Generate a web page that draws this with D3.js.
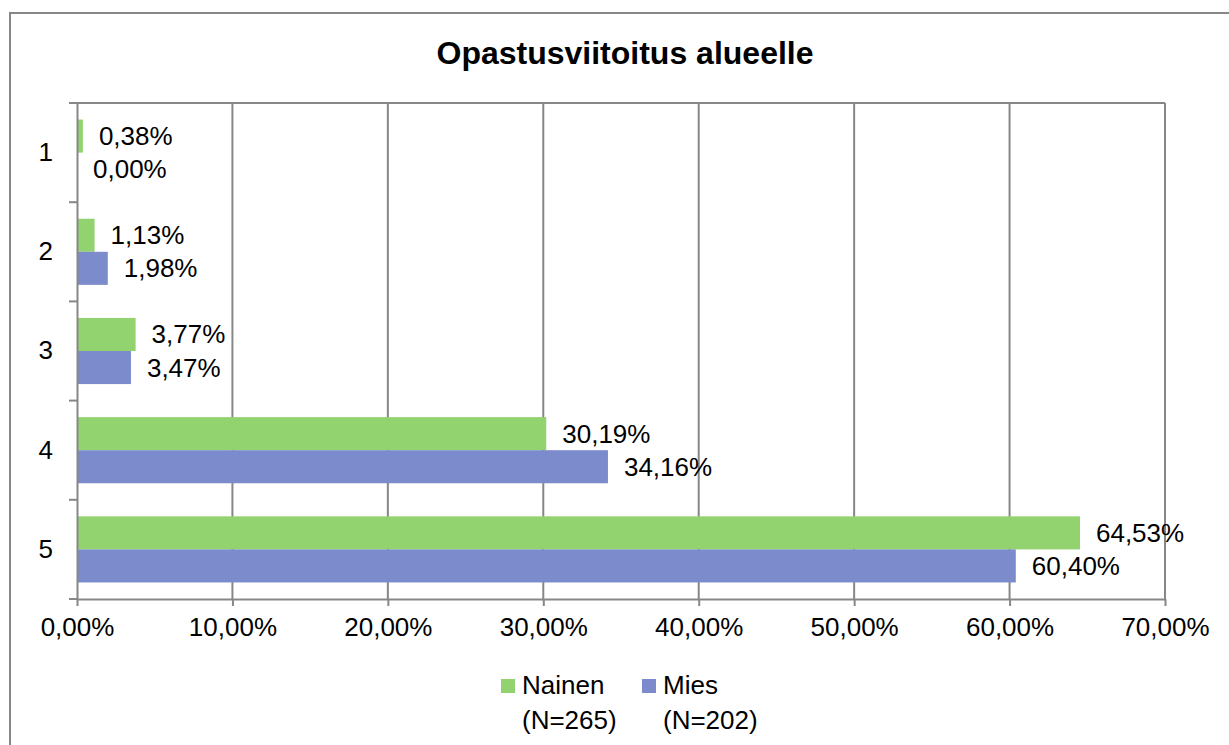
<!DOCTYPE html>
<meta charset="utf-8">
<head>
<style>
  body { margin: 0; background: #fff; }
  text { font-family: "Liberation Sans", Arial, sans-serif; fill: #000; }
  .grid line { stroke: #878787; stroke-width: 2; }
  .axis path, .axis line { stroke: #878787; stroke-width: 2; }
</style>
</head>
<script src="https://d3js.org/d3.v7.min.js"></script>
<div id="chart"></div>
<script>
// data
var categories = ["1", "2", "3", "4", "5"];
var seriesNames = ["Nainen", "Mies"];
var seriesLegend = ["(N=265)", "(N=202)"];
var nainen = [0.38, 1.13, 3.77, 30.19, 64.53];
var mies = [0.00, 1.98, 3.47, 34.16, 60.40];
var xTicks = [0, 10, 20, 30, 40, 50, 60, 70];
var colors = ["#92d36f", "#7b8bcc"];

var W = 1229, H = 745;
var plot = {left: 77, right: 1165, top: 103, bottom: 599};

var svg = d3.select("#chart").append("svg")
    .attr("width", W).attr("height", H);

// outer chart border (right and bottom are off the picture)
svg.append("rect")
    .attr("x", 10).attr("y", 13)
    .attr("width", 1240).attr("height", 760)
    .attr("fill", "none").attr("stroke", "#878787").attr("stroke-width", 2);

svg.append("text")
    .attr("x", 625).attr("y", 64)
    .attr("text-anchor", "middle")
    .style("font-size", "32px").style("font-weight", "bold")
    .text("Opastusviitoitus alueelle");

var x = d3.scaleLinear().domain([0, 70]).range([plot.left, plot.right]);
var y = d3.scaleBand().domain(categories).range([plot.top, plot.bottom]);
var ySub = d3.scaleBand().domain(seriesNames)
    .range([0, y.bandwidth()]).paddingOuter(0.5);

var fmt = function(v) { return d3.format(".2f")(v).replace(".", ",") + "%"; };

// vertical gridlines
svg.append("g").attr("class", "grid")
  .selectAll("line").data(xTicks.slice(1)).enter().append("line")
    .attr("x1", function(d) { return x(d); }).attr("x2", function(d) { return x(d); })
    .attr("y1", plot.top).attr("y2", plot.bottom);
// top border of plot area
svg.append("line")
    .attr("x1", plot.left).attr("x2", plot.right)
    .attr("y1", plot.top).attr("y2", plot.top)
    .attr("stroke", "#878787").attr("stroke-width", 2);

// bars
var rows = categories.map(function(c, i) {
  return [{cat: c, s: "Nainen", v: nainen[i], c: colors[0]},
          {cat: c, s: "Mies", v: mies[i], c: colors[1]}];
});
var flat = [].concat.apply([], rows);

svg.append("g").selectAll("rect").data(flat).enter().append("rect")
    .attr("x", x(0))
    .attr("y", function(d) { return y(d.cat) + ySub(d.s); })
    .attr("width", function(d) { return x(d.v) - x(0); })
    .attr("height", ySub.bandwidth())
    .attr("fill", function(d) { return d.c; });

svg.append("g").selectAll("text").data(flat).enter().append("text")
    .attr("x", function(d) { return x(d.v) + 16; })
    .attr("y", function(d) { return y(d.cat) + ySub(d.s) + ySub.bandwidth() / 2 + 9; })
    .style("font-size", "26px")
    .text(function(d) { return fmt(d.v); });

// x axis
var xAxis = svg.append("g").attr("class", "axis")
    .attr("transform", "translate(0," + plot.bottom + ")")
    .call(d3.axisBottom(x).tickValues(xTicks).tickSize(7).tickSizeOuter(0)
      .tickFormat(fmt));
xAxis.selectAll("text").style("font-size", "26px").attr("y", 19).attr("dy", "0.71em");

// y axis: labels centred, ticks on band boundaries
var yAxis = svg.append("g").attr("class", "axis")
    .attr("transform", "translate(" + plot.left + ",0)")
    .call(d3.axisLeft(y).tickSize(0).tickPadding(24));
yAxis.selectAll("text").style("font-size", "26px");
var bounds = categories.map(function(c) { return y(c); }).concat([plot.bottom]);
svg.append("g").selectAll("line").data(bounds).enter().append("line")
    .attr("x1", plot.left - 8).attr("x2", plot.left)
    .attr("y1", function(d) { return d; }).attr("y2", function(d) { return d; })
    .attr("stroke", "#878787").attr("stroke-width", 2);

// legend
var legendX = [501, 642];
var leg = svg.append("g").selectAll("g").data(seriesNames).enter().append("g")
    .attr("transform", function(d, i) { return "translate(" + legendX[i] + ",679)"; });
leg.append("rect").attr("width", 14).attr("height", 14)
    .attr("fill", function(d, i) { return colors[i]; });
leg.append("text").attr("x", 21).attr("y", 15)
    .style("font-size", "26px").text(function(d) { return d; });
leg.append("text").attr("x", 21).attr("y", 50)
    .style("font-size", "26px").text(function(d, i) { return seriesLegend[i]; });
</script>
